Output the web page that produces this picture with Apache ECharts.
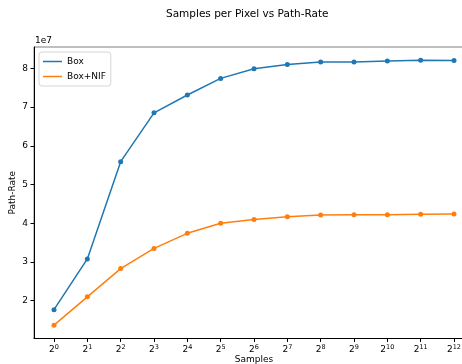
<!DOCTYPE html>
<html>
<head>
<meta charset="utf-8">
<script src="https://cdn.jsdelivr.net/npm/echarts@6/dist/echarts.min.js"></script>
<style>
  html, body { margin: 0; padding: 0; background: #fff; }
  #chart { width: 462px; height: 364px; }
</style>
</head>
<body>
<div id="chart"></div>
<script>
// 采样数指数 (2^n)
var exponents = [0, 1, 2, 3, 4, 5, 6, 7, 8, 9, 10, 11, 12];
// Path-Rate, 单位 1e7
var boxRate = [1.77, 3.08, 5.59, 6.85, 7.31, 7.74, 7.99, 8.10, 8.16, 8.16, 8.19, 8.21, 8.20];
var nifRate = [1.37, 2.10, 2.83, 3.35, 3.74, 4.00, 4.10, 4.17, 4.21, 4.22, 4.22, 4.23, 4.24];
var yTicks = [2, 3, 4, 5, 6, 7, 8];
var seriesNames = ['Box', 'Box+NIF'];

var font = 'DejaVu Sans';
var chart = echarts.init(document.getElementById('chart'));

function toPairs(vals) {
  return exponents.map(function (e, i) { return [e, vals[i]]; });
}

var option = {
  animation: false,
  textStyle: { fontFamily: font },
  title: {
    text: 'Samples per Pixel vs Path-Rate',
    left: 166,
    top: 9,
    padding: 0,
    textStyle: { fontFamily: font, fontSize: 10.5, fontWeight: 'normal', color: '#000' }
  },
  graphic: [{
    type: 'text',
    left: 35,
    top: 36,
    style: { text: '1e7', fontFamily: font, fontSize: 9, fill: '#000' }
  }],
  legend: {
    orient: 'vertical',
    left: 39,
    top: 52,
    data: seriesNames,
    icon: 'rect',
    itemWidth: 19,
    itemHeight: 1.5,
    itemGap: 6,
    padding: [5, 5, 5, 4],
    backgroundColor: '#fff',
    borderColor: '#d6d6d6',
    borderWidth: 1,
    borderRadius: 3,
    textStyle: { fontFamily: font, fontSize: 9, color: '#000' }
  },
  grid: {
    left: 34,
    top: 47,
    width: 440,
    height: 291.5,
    outerBoundsMode: 'none',
    containLabel: false,
    show: true,
    borderColor: '#7f7f7f',
    borderWidth: 1,
    backgroundColor: 'transparent'
  },
  xAxis: {
    type: 'value',
    min: -0.6,
    max: 12.6,
    name: 'Samples',
    nameLocation: 'middle',
    nameGap: 17,
    nameMoveOverlap: false,
    nameTextStyle: { fontFamily: font, fontSize: 9, color: '#000' },
    axisLine: { show: true, onZero: false, lineStyle: { color: '#000', width: 1 } },
    axisTick: { show: true, length: 3.5, customValues: exponents, lineStyle: { color: '#000' } },
    splitLine: { show: false },
    axisLabel: {
      customValues: exponents,
      margin: 5,
      color: '#000',
      formatter: function (v) { return '{b|2}{s|' + v + '}'; },
      rich: {
        b: { fontFamily: font, fontSize: 9, color: '#000' },
        s: { fontFamily: font, fontSize: 6.5, color: '#000', padding: [0, 0, 5, 0] }
      }
    }
  },
  yAxis: {
    type: 'value',
    min: 1.025,
    max: 8.55,
    name: 'Path-Rate',
    nameLocation: 'middle',
    nameRotate: 90,
    nameGap: 16.5,
    nameMoveOverlap: false,
    nameTextStyle: { fontFamily: font, fontSize: 9, color: '#000' },
    axisLine: { show: true, onZero: false, lineStyle: { color: '#000', width: 1 } },
    axisTick: { show: true, length: 3.5, customValues: yTicks, lineStyle: { color: '#000' } },
    splitLine: { show: false },
    axisLabel: {
      customValues: yTicks,
      margin: 6,
      color: '#000',
      fontFamily: font,
      fontSize: 9,
      formatter: function (v) { return String(v); }
    }
  },
  series: [{
    name: seriesNames[0],
    type: 'line',
    data: toPairs(boxRate),
    symbol: 'circle',
    symbolSize: 5,
    itemStyle: { color: '#1f77b4' },
    lineStyle: { color: '#1f77b4', width: 1.5 }
  }, {
    name: seriesNames[1],
    type: 'line',
    data: toPairs(nifRate),
    symbol: 'circle',
    symbolSize: 5,
    itemStyle: { color: '#ff7f0e' },
    lineStyle: { color: '#ff7f0e', width: 1.5 }
  }]
};

chart.setOption(option);
</script>
</body>
</html>
